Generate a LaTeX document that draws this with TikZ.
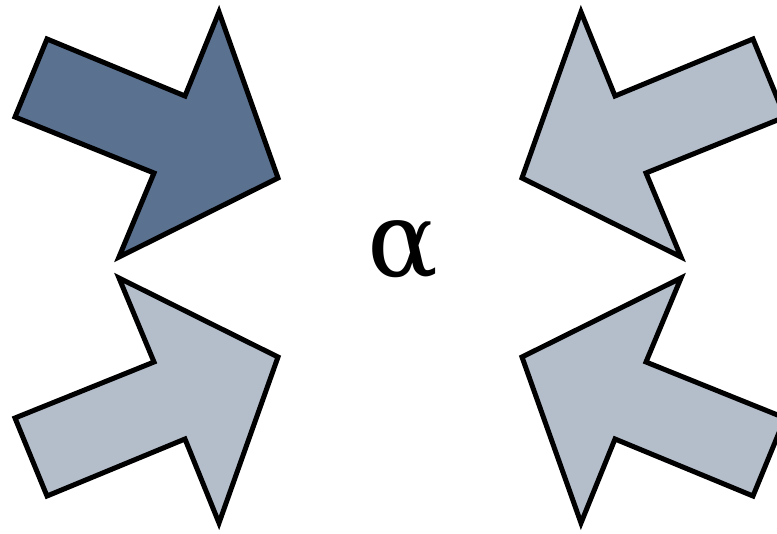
\documentclass[tikz,border=0pt]{standalone}
\usepackage{fontspec}
\setmainfont{DejaVu Serif}
\definecolor{darkarrow}{HTML}{5A7190}
\definecolor{lightarrow}{HTML}{B4BECB}
\tikzset{
  arrowshape/.style={draw=black, line width=5pt, line join=miter},
}
\begin{document}
\begin{tikzpicture}[x=1pt,y=-1pt]
\clip (0,0) rectangle (777,534);
\useasboundingbox (0,0) rectangle (777,534);
% top-left (dark)
\draw[arrowshape, fill=darkarrow] (47,39) -- (185,96) -- (219,12) -- (278,178) -- (119,257) -- (154,173) -- (15,117) -- cycle;
% bottom-left
\draw[arrowshape, fill=lightarrow] (47,496) -- (185,439) -- (219,523) -- (278,357) -- (119,278) -- (154,362) -- (15,418) -- cycle;
% top-right
\draw[arrowshape, fill=lightarrow] (753,39) -- (615,96) -- (581,12) -- (522,178) -- (681,257) -- (646,173) -- (785,117) -- cycle;
% bottom-right
\draw[arrowshape, fill=lightarrow] (753,496) -- (615,439) -- (581,523) -- (522,357) -- (681,278) -- (646,362) -- (785,418) -- cycle;
\node (alpha) at (403,250) {\fontsize{105}{110}\selectfont α};
\end{tikzpicture}
\end{document}
